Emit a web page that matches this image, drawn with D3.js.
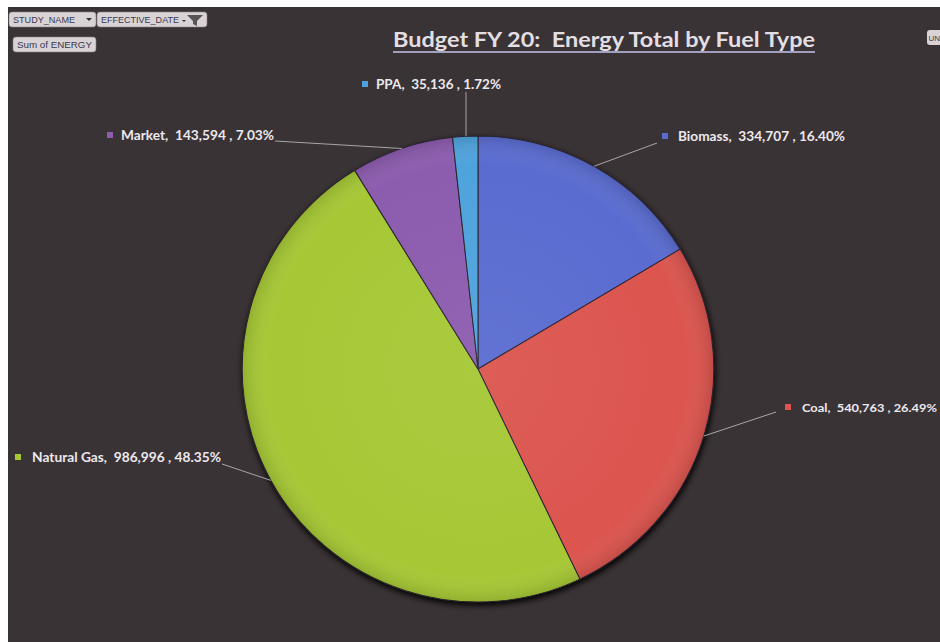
<!DOCTYPE html>
<html><head><meta charset="utf-8">
<script src="https://cdn.jsdelivr.net/npm/d3@7"></script>
<style>
html,body{margin:0;padding:0;background:#fff;}
svg{display:block;}
text{white-space:pre;}
</style></head>
<body>
<script>
const categories = ["Biomass", "Coal", "Natural Gas", "Market", "PPA"];
const values = [334707, 540763, 986996, 143594, 35136];
const percentLabels = ["16.40%", "26.49%", "48.35%", "7.03%", "1.72%"];
const colors = ["#5a6cd0", "#dc5450", "#a6c835", "#8c5cae", "#4fa3dc"];
const titleText = "Budget FY 20:  Energy Total by Fuel Type";

const W = 940, H = 642;
const svg = d3.select("body").append("svg").attr("width", W).attr("height", H);

svg.append("rect").attr("width", W).attr("height", H).attr("fill", "#ffffff");
svg.append("rect").attr("x", 8).attr("y", 7).attr("width", W - 8).attr("height", H - 7).attr("fill", "#3a3335");

function button(x, y, w, text, tw) {
  const g = svg.append("g").attr("transform", `translate(${x},${y})`);
  g.append("rect").attr("width", w).attr("height", 15).attr("rx", 3).attr("fill", "#d9d3d6").attr("stroke", "#8a8486").attr("stroke-width", 0.6);
  g.append("text").attr("x", 4).attr("y", 11).attr("font-family", "Liberation Sans, Arial, sans-serif").attr("font-size", 9.5)
    .attr("textLength", tw).attr("lengthAdjust", "spacingAndGlyphs").attr("fill", "#3a3a50").text(text);
  return g;
}
const b1 = button(9, 12, 87, "STUDY_NAME", 62);
b1.append("path").attr("d", "M77,6 L83,6 L80,9 Z").attr("fill", "#333");
const b2 = button(97, 12, 110, "EFFECTIVE_DATE", 78);
b2.append("path").attr("d", "M90,3 L106,3 L100,9 L100,14 L96,12 L96,9 Z").attr("fill", "#555");
b2.append("path").attr("d", "M85,8 L89,8 L87,10 Z").attr("fill", "#333");
button(13, 37, 83, "Sum of ENERGY", 75);
const b4 = svg.append("g").attr("transform", "translate(927,30)");
b4.append("rect").attr("width", 20).attr("height", 15).attr("rx", 3).attr("fill", "#d9d3d6");
b4.append("text").attr("x", 1.5).attr("y", 11).attr("font-family", "Liberation Sans, Arial, sans-serif").attr("font-size", 8).attr("fill", "#3a3a50").text("UN");

// title
svg.append("text").attr("x", 393).attr("y", 47)
  .attr("font-family", "Lato, 'Open Sans', sans-serif").attr("font-weight", "bold").attr("font-size", 21)
  .attr("textLength", 422).attr("lengthAdjust", "spacingAndGlyphs")
  .attr("fill", "#e2dfe4").text(titleText);
svg.append("line").attr("x1", 393).attr("x2", 815).attr("y1", 52).attr("y2", 52).attr("stroke", "#c4c6ee").attr("stroke-width", 1.6);

// pie
const cx = 478, cy = 369, R = 233;
const pie = d3.pie().sort(null).value(d => d)(values);
const arc = d3.arc().innerRadius(0).outerRadius(R);

const defs = svg.append("defs");
const grad = defs.append("radialGradient").attr("id", "shade").attr("cx", "50%").attr("cy", "50%").attr("r", "50%");
grad.append("stop").attr("offset", "0%").attr("stop-color", "#fff").attr("stop-opacity", 0.05);
grad.append("stop").attr("offset", "88%").attr("stop-color", "#fff").attr("stop-opacity", 0.0);
grad.append("stop").attr("offset", "100%").attr("stop-color", "#000").attr("stop-opacity", 0.12);
const shadow = defs.append("filter").attr("id", "ds").attr("x", "-20%").attr("y", "-20%").attr("width", "140%").attr("height", "140%");
shadow.append("feGaussianBlur").attr("in", "SourceAlpha").attr("stdDeviation", 3);
shadow.append("feOffset").attr("dx", 1).attr("dy", 3).attr("result", "b");
const fm = shadow.append("feMerge");
fm.append("feMergeNode").attr("in", "b");
fm.append("feMergeNode").attr("in", "SourceGraphic");

const pg = svg.append("g").attr("transform", `translate(${cx},${cy}) scale(1.012,1)`);
const pieG = pg.append("g").attr("filter", "url(#ds)");
pieG.selectAll("path.slice").data(pie).join("path").attr("class", "slice")
  .attr("d", arc).attr("fill", (d, i) => colors[i]).attr("stroke", "#2a2530").attr("stroke-width", 1);
pg.append("circle").attr("r", R).attr("fill", "url(#shade)").attr("pointer-events", "none");

// labels
const labelPos = [
  {sx: 662, tx: 678, y: 141, w: 167, fs: 13.5, lx1: 657, ly1: 143},
  {sx: 785, tx: 802, y: 412, w: 135, fs: 12, lx1: 776, ly1: 412},
  {sx: 15, tx: 32, y: 462, w: 189, fs: 13.5, lx1: 222, ly1: 464},
  {sx: 107, tx: 121, y: 140, w: 153, fs: 13.5, lx1: 275, ly1: 141},
  {sx: 362, tx: 376, y: 89, w: 125, fs: 13.5, lx1: 466, ly1: 92}
];
const fmt = d3.format(",");
const lg = svg.append("g");
pie.forEach((d, i) => {
  const p = labelPos[i];
  const mid = (d.startAngle + d.endAngle) / 2;
  const ex = cx + Math.sin(mid) * R * 1.012, ey = cy - Math.cos(mid) * R;
  let tx = ex, ty = ey;
  if (i === 4) { tx = p.lx1; ty = cy - R; }
  lg.append("line").attr("x1", p.lx1).attr("y1", p.ly1).attr("x2", tx).attr("y2", ty)
    .attr("stroke", "#a8a4ac").attr("stroke-width", 1);
  lg.append("rect").attr("x", p.sx).attr("y", p.y - 8).attr("width", 6).attr("height", 6).attr("fill", colors[i]);
  lg.append("text").attr("x", p.tx).attr("y", p.y).attr("font-family", "Lato, 'Open Sans', sans-serif")
    .attr("font-weight", "bold").attr("font-size", p.fs).attr("fill", "#ece8ee")
    .attr("textLength", p.w).attr("lengthAdjust", "spacingAndGlyphs")
    .text(`${categories[i]},  ${fmt(values[i])} , ${percentLabels[i]}`);
});
</script>
</body></html>
